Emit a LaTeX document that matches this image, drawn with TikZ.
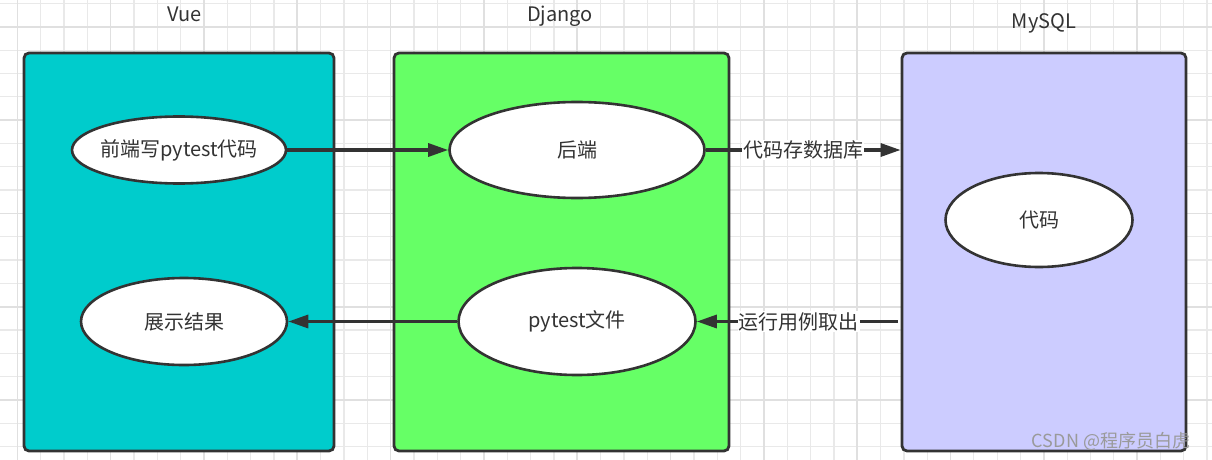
\documentclass[tikz,border=0pt]{standalone}
\usepackage{fontspec}
\setmainfont{Noto Sans CJK SC}
\usetikzlibrary{arrows.meta,positioning,shapes.geometric}
\definecolor{vueCyan}{HTML}{00CCCC}
\definecolor{djGreen}{HTML}{66FF66}
\definecolor{sqlLilac}{HTML}{CCCCFF}
\definecolor{ink}{HTML}{333333}
\definecolor{gridMinor}{HTML}{E9E9E9}
\definecolor{gridMajor}{HTML}{E0E0E0}
\definecolor{markGray}{HTML}{9A9A9A}
\tikzset{
  lane/.style={draw=ink, line width=2.8pt, rounded corners=5pt, minimum height=398pt},
  lanetitle/.style={text=ink, font=\fontsize{20pt}{24pt}\selectfont, inner sep=0pt, anchor=base},
  bubble/.style={draw=ink, line width=2.6pt, ellipse, fill=white, text=ink,
    inner xsep=-12pt, inner ysep=0pt, font=\fontsize{20pt}{24pt}\selectfont},
  arr/.style={-{Triangle[length=20pt,width=13pt]}, draw=ink, line width=3.2pt},
  edgelbl/.style={fill=white, text=ink, inner sep=1pt, font=\fontsize{20pt}{24pt}\selectfont}
}
\begin{document}
\begin{tikzpicture}[x=1pt, y=-1pt]
\useasboundingbox (0,0) rectangle (1212,460);
\fill[white] (0,0) rectangle (1212,460);
% grid
\foreach \k in {0,...,51} \draw[gridMinor, line width=1.3pt] (17.3+\k*23.33,0) -- (17.3+\k*23.33,460);
\foreach \k in {0,...,19} \draw[gridMinor, line width=1.3pt] (0,3.5+\k*23.33) -- (1212,3.5+\k*23.33);
\foreach \k in {0,4,...,48} \draw[gridMajor, line width=1.6pt] (17.3+\k*23.33,0) -- (17.3+\k*23.33,460);
\foreach \k in {1,5,...,17} \draw[gridMajor, line width=1.6pt] (0,3.5+\k*23.33) -- (1212,3.5+\k*23.33);

% lanes
\node[lane, fill=vueCyan, minimum width=310pt] (vue) at (179,252) {};
\node[lane, fill=djGreen, minimum width=335pt] (django) at (561.5,252) {};
\node[lane, fill=sqlLilac, minimum width=284pt] (mysql) at (1044,252) {};
\node[lanetitle] (vuet) at (184.5,22) {Vue};
\node[lanetitle] (djangot) at (560,22) {Django};
\node[lanetitle] (mysqlt) at (1044,29) {MySQL};

% ellipses
\node[bubble, minimum width=214pt, minimum height=67pt] (front) at (179,150) {前端写pytest代码};
\node[bubble, minimum width=255pt, minimum height=96pt] (back) at (577,150) {后端};
\node[bubble, minimum width=187pt, minimum height=94pt] (code) at (1039,220) {代码};
\node[bubble, minimum width=206pt, minimum height=87pt] (result) at (184,321.5) {展示结果};
\node[bubble, minimum width=237pt, minimum height=107pt] (pyfile) at (577,321.5) {pytest文件};

% flows
\draw[arr] (front) -- (back);
\draw[arr] (back) -- node[edgelbl]{代码存数据库} (back -| mysql.west);
\draw[arr, shorten <=3pt] (mysql.west |- pyfile) -- node[edgelbl]{运行用例取出} (pyfile);
\draw[arr] (pyfile) -- (result);

\node[text=markGray, font=\fontsize{18pt}{20pt}\selectfont, inner sep=0pt] (mark) at (1111,441) {CSDN @程序员白虎};
\end{tikzpicture}
\end{document}
